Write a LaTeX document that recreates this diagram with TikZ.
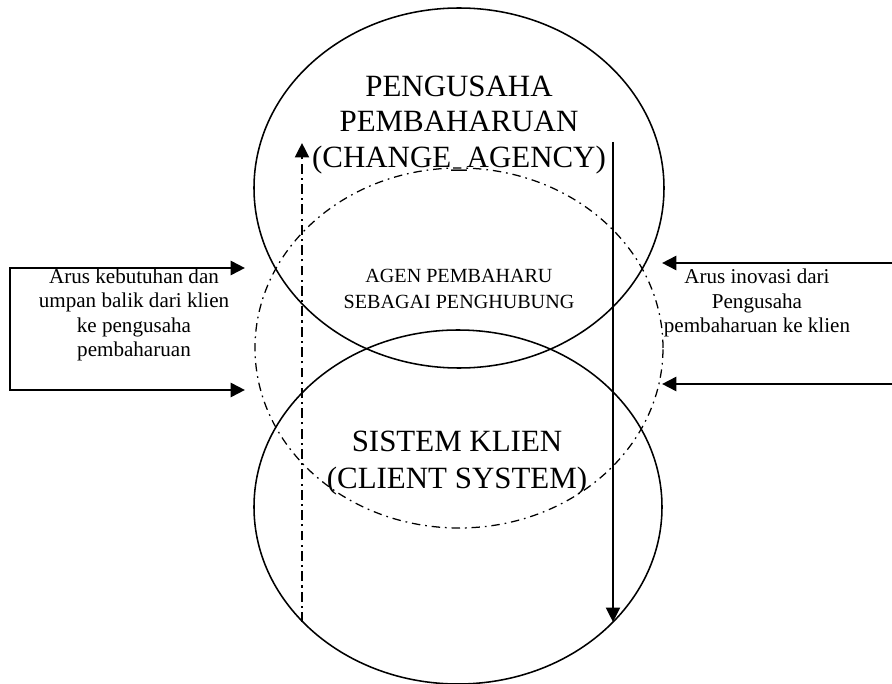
\documentclass[tikz,border=0pt]{standalone}
\usepackage{fontspec}
\setmainfont{Liberation Serif}
\usetikzlibrary{arrows.meta, shapes.geometric}

\begin{document}
\begin{tikzpicture}[
    % GLOBAL CFG
    >={Triangle[length=3.6mm, width=3.5mm]},
    % Styles
    party/.style={% For the two main ellipses
        ellipse,
        draw,
        line width=1.1pt,
        minimum width=10.25cm,
        minimum height=9cm,
        },
    bridge/.style={% For the dash-dotted ellipse of the agent
        ellipse,
        draw,
        line width=0.9pt,
        dash pattern=on 6pt off 3.5pt on 1.2pt off 3.5pt,
        minimum width=10.2cm,
        minimum height=9cm,
        },
    bigtext/.style={% Titles inside the ellipses
        font=\fontsize{22}{25}\selectfont,
        align=center,
        },
    smalltext/.style={% Side texts and agent text
        font=\fontsize{15}{17.5}\selectfont,
        align=center,
        },
    flow/.style={% Thick side arrows
        line width=2pt,
        },
    updown/.style={% Vertical arrows
        line width=1.6pt,
        },
    ]

    \useasboundingbox (0,0) rectangle (22.3,17.075);

    % Draw the ellipses
    \node [party] (agency) at (11.475,12.375) {};
    \node [bridge] (agent) at (11.475,8.375) {};
    \node [party, minimum height=8.85cm, minimum width=10.2cm] (client) at (11.45,4.4) {};

    % Texts
    \node [bigtext] (agency_txt) at (11.475,13.95) {PENGUSAHA\\PEMBAHARUAN\\(CHANGE\_AGENCY)};
    \node [smalltext, font=\fontsize{14.3}{18.8}\selectfont] (agent_txt) at (11.475,9.85) {AGEN PEMBAHARU\\SEBAGAI PENGHUBUNG};
    \node [bigtext, font=\fontsize{22}{26.5}\selectfont] (client_txt) at (11.425,5.5) {SISTEM KLIEN\\(CLIENT SYSTEM)};
    \node [smalltext] (needs_txt) at (3.35,9.2) {Arus kebutuhan dan\\umpan balik dari klien\\ke pengusaha\\pembaharuan};
    \node [smalltext] (innov_txt) at (18.925,9.5) {Arus inovasi dari\\Pengusaha\\pembaharuan ke klien};

    % End points of the connectors
    \coordinate (needs_top) at (6.125,10.375);
    \coordinate (needs_back) at (0.25,10.375);
    \coordinate (needs_bot) at (6.125,7.325);
    \coordinate (innov_top_in) at (22.3,10.5);
    \coordinate (innov_top) at (16.55,10.5);
    \coordinate (innov_bot_in) at (22.3,7.475);
    \coordinate (innov_bot) at (16.55,7.475);
    \coordinate (feed_start) at (7.55,1.525);
    \coordinate (feed_end) at (7.55,13.5);
    \coordinate (down_start) at (15.325,13.525);
    \coordinate (down_end) at (15.325,1.525);

    % Drawing arrows
    \draw [<->, flow] (needs_top) -- (needs_back) |- (needs_bot);
    \draw [->, flow] (innov_top_in) -- (innov_top);
    \draw [->, flow] (innov_bot_in) -- (innov_bot);
    \draw [->, updown, dash pattern=on 7pt off 3pt on 1.5pt off 3pt] (feed_start) -- (feed_end);
    \draw [->, updown] (down_start) -- (down_end);

\end{tikzpicture}
\end{document}
